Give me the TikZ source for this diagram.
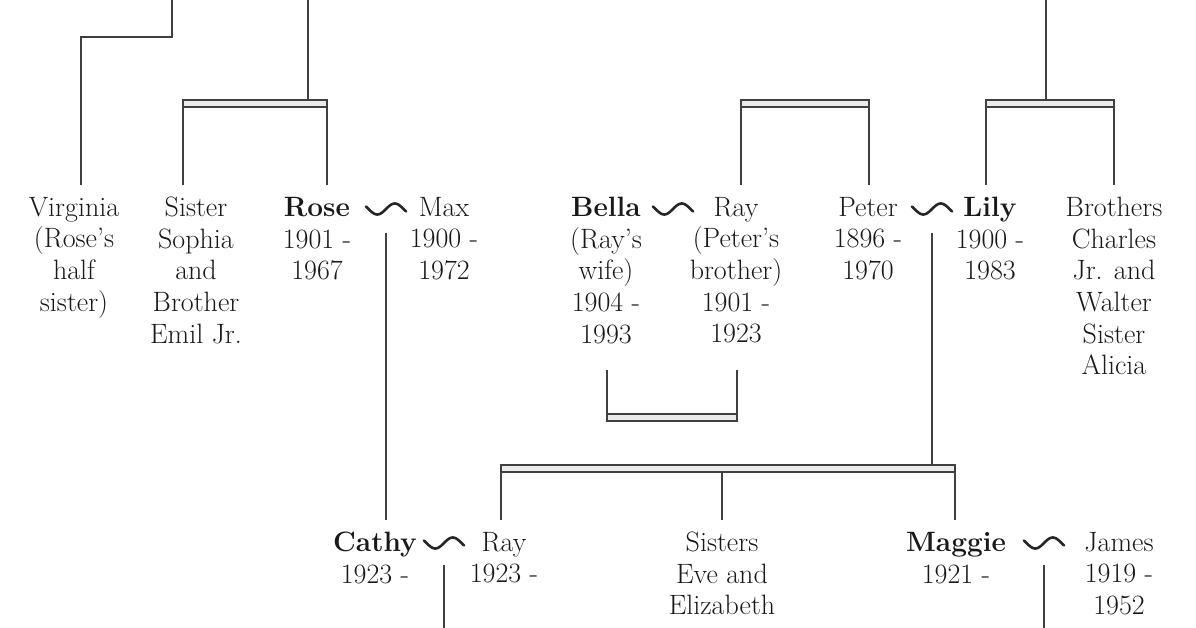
\documentclass[tikz,border=0pt]{standalone}
\usepackage{tikz}

\begin{document}
\begin{tikzpicture}[x=1pt,y=-1pt,
    person/.style={anchor=north,align=center,inner xsep=2pt,inner ysep=12pt,
      font=\fontsize{28}{31.6}\selectfont,text=black!90,
      execute at begin node=\vphantom{(}},
    kin/.style={draw=black!75,line width=2.2pt},
    sibbar/.style={draw=black!75,fill=black!8,line width=1.6pt},
    marry/.style={draw=black!85,line width=2.6pt,line cap=round}]
  \useasboundingbox (0,0) rectangle (1196,628);
  % first generation
  \node[person] (virginia) at (74,185) {Virginia\\(Rose's\\half\\sister)};
  \node[person] (sophia) at (196,185) {Sister\\Sophia\\and\\Brother\\Emil Jr.};
  \node[person] (rose) at (317,185) {\textbf{Rose}\\1901 -\\1967};
  \node[person] (max) at (444,185) {Max\\1900 -\\1972};
  \node[person] (bella) at (606,185) {\textbf{Bella}\\(Ray's\\wife)\\1904 -\\1993};
  \node[person] (ray) at (736,185) {Ray\\(Peter's\\brother)\\1901 -\\1923};
  \node[person] (peter) at (868,185) {Peter\\1896 -\\1970};
  \node[person] (lily) at (990,185) {\textbf{Lily}\\1900 -\\1983};
  \node[person] (brothers) at (1114,185) {Brothers\\Charles\\Jr. and\\Walter\\Sister\\Alicia};
  % second generation
  \node[person] (cathy) at (375,520) {\textbf{Cathy}\\1923 -};
  \node[person] (rayjr) at (504,520) {Ray\\1923 -};
  \node[person] (sisters) at (722,520) {Sisters\\Eve and\\Elizabeth};
  \node[person] (maggie) at (956,520) {\textbf{Maggie}\\1921 -};
  \node[person] (james) at (1119,520) {James\\1919 -\\1952};
  % marriages
  \coordinate (roseMax) at (386,209);
  \coordinate (bellaRay) at (673,209);
  \coordinate (peterLily) at (932,209);
  \coordinate (cathyRay) at (444,543);
  \coordinate (maggieJames) at (1044,543);
  \foreach \m in {roseMax,bellaRay,peterLily,cathyRay,maggieJames}
    \draw[marry,shift={(\m)}] plot[domain=-1.15:1.15,samples=40] (17.5*\x,{-5.5*sin(180*\x)});
  % sibling bars
  \coordinate (roseParents) at (308,0);
  \coordinate (roseSibsL) at (183,100);
  \coordinate (roseSibsR) at (327,100);
  \coordinate (peterSibsL) at (741,100);
  \coordinate (peterSibsR) at (869,100);
  \coordinate (lilyParents) at (1046,0);
  \coordinate (lilySibsL) at (986,100);
  \coordinate (lilySibsR) at (1114,100);
  \coordinate (kidsL) at (501,465);
  \coordinate (kidsR) at (955,465);
  \coordinate (bellaRayL) at (607,414);
  \coordinate (bellaRayR) at (737,414);
  \coordinate (virginiaParent) at (172,0);
  \coordinate (pageEnd) at (0,630);
  \draw[sibbar] (roseSibsL) rectangle ([yshift=-7pt]roseSibsR);
  \draw[sibbar] (peterSibsL) rectangle ([yshift=-7pt]peterSibsR);
  \draw[sibbar] (lilySibsL) rectangle ([yshift=-7pt]lilySibsR);
  \draw[sibbar] (kidsL) rectangle ([yshift=-7pt]kidsR);
  \draw[sibbar] (bellaRayL) rectangle ([yshift=-7pt]bellaRayR);
  % lines
  \draw[kin] (virginiaParent) -- ++(0,37) -| ([xshift=7pt]virginia.north);
  \draw[kin] (roseParents) -- (roseParents |- roseSibsL);
  \draw[kin] (roseSibsL) -- (roseSibsL |- sophia.north);
  \draw[kin] (roseSibsR) -- (roseSibsR |- rose.north);
  \draw[kin] (peterSibsL) -- (peterSibsL |- ray.north);
  \draw[kin] (peterSibsR) -- (peterSibsR |- peter.north);
  \draw[kin] (lilyParents) -- (lilyParents |- lilySibsL);
  \draw[kin] (lilySibsL) -- (lilySibsL |- lily.north);
  \draw[kin] (lilySibsR) -- (lilySibsR |- brothers.north);
  \draw[kin,shorten <=8pt] (bella.south -| bellaRayL) -- ([yshift=-7pt]bellaRayL);
  \draw[kin,shorten <=8pt] (ray.south -| bellaRayR) -- ([yshift=-7pt]bellaRayR);
  \draw[kin] ([yshift=-24pt]roseMax) -- (roseMax |- cathy.north);
  \draw[kin] ([yshift=-24pt]peterLily) -- (peterLily |- kidsL);
  \draw[kin] (kidsL) -- (kidsL |- rayjr.north);
  \draw[kin] ([yshift=-7pt]sisters.north |- kidsL) -- (sisters.north);
  \draw[kin] (kidsR) -- (kidsR |- maggie.north);
  \draw[kin] ([yshift=-22pt]cathyRay) -- (cathyRay |- pageEnd);
  \draw[kin] ([yshift=-22pt]maggieJames) -- (maggieJames |- pageEnd);
\end{tikzpicture}
\end{document}
